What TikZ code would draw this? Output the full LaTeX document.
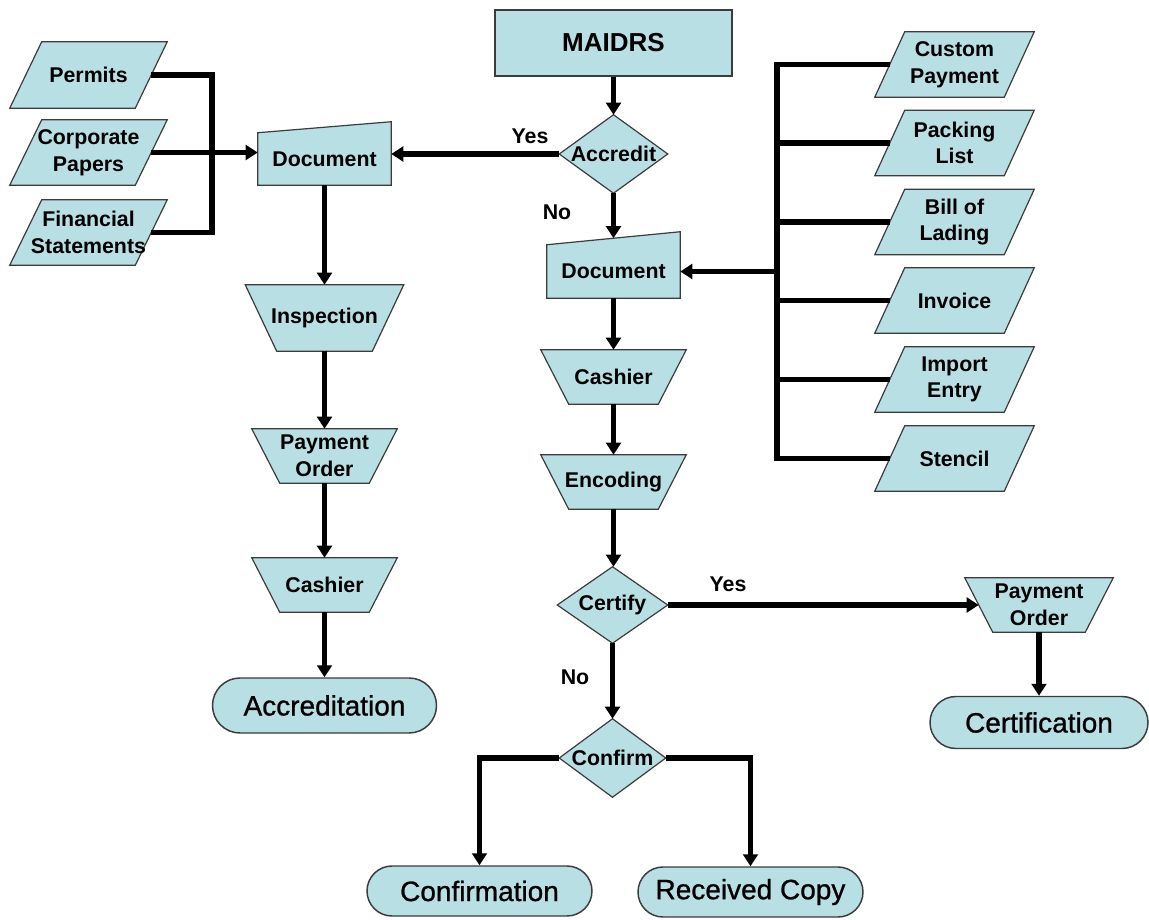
\documentclass[tikz,border=0pt]{standalone}
\usepackage{fontspec}
\setmainfont{Liberation Sans}
\newfontfamily\termfont{Liberation Sans}[BoldFont={Liberation Sans}, BoldFeatures={FakeBold=0.9}]
\usetikzlibrary{arrows.meta,backgrounds}
\definecolor{boxfill}{RGB}{184,223,227}
\definecolor{boxline}{RGB}{60,60,60}

\tikzset{
  lbl/.style={font=\bfseries\fontsize{16}{20}\selectfont, align=center, inner sep=0pt},
  bigl/.style={font=\termfont\bfseries\fontsize{21}{25}\selectfont, align=center, inner sep=0pt},
  shapeline/.style={draw=boxline, line width=0.9pt, fill=boxfill},
  terminal/.style={bigl, shapeline, line width=1.1pt, rounded corners=#1},
  link/.style={line width=3.9pt, line join=miter},
  arrow/.style={link, -{Triangle[length=9pt,width=11pt]}},
}

% shape outlines drawn around the named text nodes
\newcommand\invtrap[2]{\draw[shapeline] (#1.north west) -- (#1.north east) -- ([xshift=-#2]#1.south east) -- ([xshift=#2]#1.south west) -- cycle;}
\newcommand\iopar[2]{\draw[shapeline] (#1.south west) -- ([xshift=-#2]#1.south east) -- (#1.north east) -- ([xshift=#2]#1.north west) -- cycle;}
\newcommand\manin[2]{\draw[shapeline] (#1.south west) -- (#1.south east) -- ([yshift=#2]#1.north east) -- (#1.north west) -- cycle;}
\newcommand\decis[1]{\draw[shapeline] (#1.north) -- (#1.east) -- (#1.south) -- (#1.west) -- cycle;}

\begin{document}
\begin{tikzpicture}[x=0.75pt,y=-0.75pt]
\useasboundingbox (0,0) rectangle (1149,920);

% ---- main column ----
\node[lbl, shapeline, font=\bfseries\fontsize{19.5}{23}\selectfont, minimum width=177.75pt, minimum height=49.5pt] (maidrs) at (613.5,43) {MAIDRS};
\node[lbl, minimum width=81pt, minimum height=58.5pt] (acc) at (613.5,154) {Accredit};
\node[lbl, minimum width=99.75pt, minimum height=39.75pt] (doc2) at (613.5,271.5) {Document};
\node[lbl, minimum width=108.75pt, minimum height=40.5pt] (cash2) at (613.5,377) {Cashier};
\node[lbl, minimum width=108.75pt, minimum height=40.5pt] (enc) at (613.5,482) {Encoding};
\node[lbl, minimum width=82.5pt, minimum height=57pt] (cert) at (612.5,605) {Certify};
\node[lbl, minimum width=79.5pt, minimum height=58.5pt] (conf) at (612.5,758) {Confirm};
\node[terminal=18.75pt, minimum width=168.75pt, minimum height=37.5pt] (confirmation) at (479.5,891) {Confirmation};
\node[terminal=18.75pt, minimum width=168.75pt, minimum height=37.5pt] (received) at (750.5,892) {Received Copy};

% ---- certification branch ----
\node[lbl, minimum width=111pt, minimum height=40.5pt] (po2) at (1039,605) {Payment\\Order};
\node[terminal=19.5pt, minimum width=163.5pt, minimum height=39pt] (certification) at (1039,722.5) {Certification};

% ---- accreditation column ----
\node[lbl, minimum width=99.75pt, minimum height=39pt] (doc1) at (324.5,159) {Document};
\node[lbl, minimum width=118.5pt, minimum height=49.5pt] (insp) at (324.5,318) {Inspection};
\node[lbl, minimum width=108.75pt, minimum height=40.5pt] (po1) at (324.5,456) {Payment\\Order};
\node[lbl, minimum width=108.75pt, minimum height=40.5pt] (cash1) at (324.5,585) {Cashier};
\node[terminal=20.6pt, minimum width=168pt, minimum height=41.25pt] (accreditation) at (324.5,705.5) {Accreditation};

% ---- accreditation inputs ----
\node[lbl, minimum width=117.75pt, minimum height=49.5pt] (perm) at (88.5,75) {Permits};
\node[lbl, minimum width=117.75pt, minimum height=48.75pt] (corp) at (88.5,152.5) {Corporate\\Papers};
\node[lbl, minimum width=117.75pt, minimum height=48.75pt] (fin) at (88.5,232.5) {Financial\\Statements};

% ---- import documents ----
\node[lbl, minimum width=119.25pt, minimum height=48.75pt] (cp) at (954.5,64.5) {Custom\\Payment};
\node[lbl, minimum width=119.25pt, minimum height=48.75pt] (pack) at (954.5,143) {Packing\\List};
\node[lbl, minimum width=119.25pt, minimum height=48.75pt] (bill) at (954.5,222) {Bill of\\Lading};
\node[lbl, minimum width=119.25pt, minimum height=48.75pt] (inv) at (954.5,300.5) {Invoice};
\node[lbl, minimum width=119.25pt, minimum height=48.75pt] (imp) at (954.5,379.5) {Import\\Entry};
\node[lbl, minimum width=119.25pt, minimum height=48.75pt] (sten) at (954.5,458.5) {Stencil};

% ---- decision labels ----
\node[lbl] (yes1) at (530,136) {Yes};
\node[lbl] (no1) at (557,212) {No};
\node[lbl] (yes2) at (728,584) {Yes};
\node[lbl] (no2) at (575,677) {No};

% ---- outlines behind the labels ----
\begin{scope}[on background layer]
  \decis{acc}\decis{cert}\decis{conf}
  \manin{doc1}{8.25pt}\manin{doc2}{9.75pt}
  \invtrap{insp}{23.6pt}\invtrap{po1}{21pt}\invtrap{cash1}{21pt}
  \invtrap{cash2}{21pt}\invtrap{enc}{21pt}\invtrap{po2}{21pt}
  \iopar{perm}{24pt}\iopar{corp}{24pt}\iopar{fin}{24pt}
  \iopar{cp}{22.5pt}\iopar{pack}{22.5pt}\iopar{bill}{22.5pt}
  \iopar{inv}{22.5pt}\iopar{imp}{22.5pt}\iopar{sten}{22.5pt}
\end{scope}

% ---- connection points ----
\coordinate (doc2top) at ([yshift=4.875pt]doc2.north);
\coordinate (po2w) at ([xshift=10.5pt]po2.west);
\coordinate (permR) at ([xshift=-12pt]perm.east);
\coordinate (corpR) at ([xshift=-12pt]corp.east);
\coordinate (finR) at ([xshift=-12pt]fin.east);
\coordinate (lbus) at (212,0);
\coordinate (rbus) at (777,0);
\foreach \n in {cp,pack,bill,inv,imp,sten}
  \coordinate (\n L) at ([xshift=11.25pt]\n.west);

% ---- connectors ----
\draw[arrow] (maidrs) -- (acc);
\draw[arrow] (acc.south) -- (doc2top);
\draw[arrow] (doc2) -- (cash2);
\draw[arrow] (cash2) -- (enc);
\draw[arrow] (enc.south) -- (enc.south |- cert.north);
\draw[arrow] (cert) -- (conf);
\draw[arrow] (conf.west) -| (confirmation.north);
\draw[arrow] (conf.east) -| (received.north);
\draw[arrow] (cert.east) -- (cert.east -| po2w);
\draw[arrow] (po2) -- (certification);

\draw[arrow] (acc.west) -- (acc.west -| doc1.east);
\draw[arrow] (doc1) -- (insp);
\draw[arrow] (insp) -- (po1);
\draw[arrow] (po1) -- (cash1);
\draw[arrow] (cash1) -- (accreditation);

\draw[link] (permR) -| (lbus |- finR) -- (finR);
\draw[arrow] (corpR) -- (corpR -| doc1.west);

\draw[link] (cpL) -| (rbus |- stenL) -- (stenL);
\foreach \n in {pack,bill,inv,imp}
  \draw[link] (rbus |- \n L) -- (\n L);
\draw[arrow] (rbus |- doc2.east) -- (doc2.east);
\end{tikzpicture}
\end{document}
